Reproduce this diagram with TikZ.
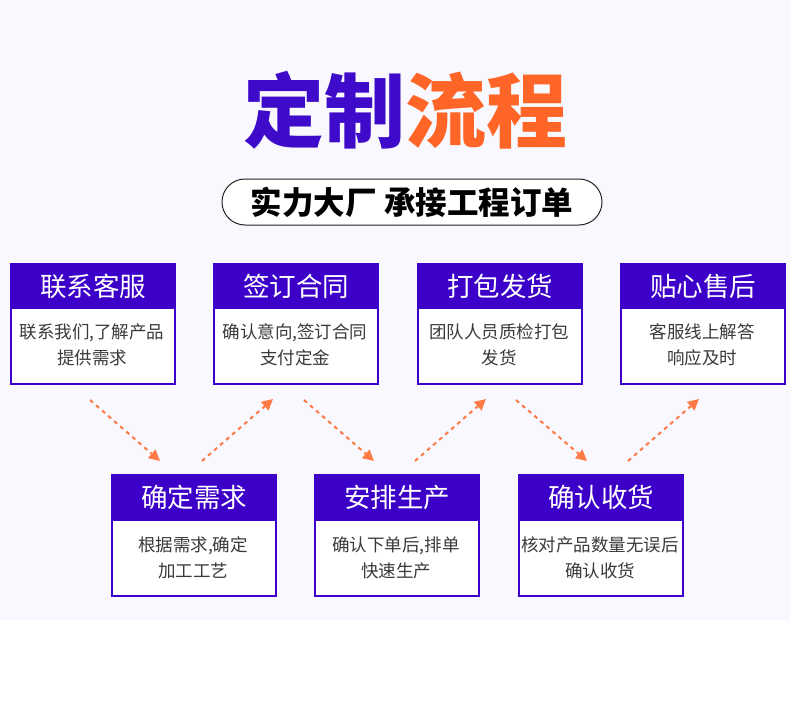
\documentclass[tikz,border=0pt]{standalone}
\usepackage{fontspec}
\newfontfamily\cjk{Noto Sans CJK SC}
\usetikzlibrary{arrows.meta}
\definecolor{bgl}{HTML}{F8F8FE}
\definecolor{pur}{HTML}{3C00C8}
\definecolor{tpur}{HTML}{3E0BCB}
\definecolor{org}{HTML}{FF6526}
\definecolor{arr}{HTML}{FF7A45}
\definecolor{txt}{HTML}{3A3A3A}
\begin{document}
\begin{tikzpicture}[x=1pt,y=-1pt,
  card/.style={draw=pur, line width=2pt, fill=white, minimum width=164pt, minimum height=120pt, inner sep=0pt, anchor=north west},
  hdr/.style={fill=pur, text=white, minimum width=164pt, minimum height=46pt, inner sep=0pt, anchor=north, font=\cjk\fontsize{26.5}{26.5}\selectfont},
  bodytext/.style={align=center, text=txt, inner sep=0pt, font=\cjk\fontsize{17.5}{26}\selectfont},
  flow/.style={arr, line width=2pt, dash pattern=on 4pt off 4pt, -{Triangle[length=11pt,width=11pt]}}
]
\useasboundingbox (0,0) rectangle (790,701);
\fill[white] (0,0) rectangle (790,701);
\fill[bgl] (0,0) rectangle (790,620);

\node[font=\cjk\bfseries\fontsize{81}{81}\selectfont, inner sep=0pt] (title) at (405,110) {{\color{tpur}定制}{\color{org}流程}};
\draw[black!85, line width=1pt, rounded corners=23pt, fill=white] (222,179) rectangle (602,225);
\node[font=\cjk\bfseries\fontsize{31.5}{31.5}\selectfont, inner sep=0pt] (sub) at (412,202) {实力大厂\hspace{8pt}承接工程订单};

% top row
\node[card] (c1) at (10,263) {};
\node[hdr] (h1) at (c1.north) {联系客服};
\node[bodytext] (t1) at (92,345) {联系我们,了解产品\\提供需求};
\node[card] (c2) at (213,263) {};
\node[hdr] (h2) at (c2.north) {签订合同};
\node[bodytext] (t2) at (295,345) {确认意向,签订合同\\支付定金};
\node[card] (c3) at (417,263) {};
\node[hdr] (h3) at (c3.north) {打包发货};
\node[bodytext] (t3) at (499,345) {团队人员质检打包\\发货};
\node[card] (c4) at (620,263) {};
\node[hdr] (h4) at (c4.north) {贴心售后};
\node[bodytext] (t4) at (702,345) {客服线上解答\\响应及时};

% bottom row
\node[card, minimum height=121pt] (c5) at (111,474) {};
\node[hdr, minimum height=47pt] (h5) at (c5.north) {确定需求};
\node[bodytext] (t5) at (193,558) {根据需求,确定\\加工工艺};
\node[card, minimum height=121pt] (c6) at (314,474) {};
\node[hdr, minimum height=47pt] (h6) at (c6.north) {安排生产};
\node[bodytext] (t6) at (396,558) {确认下单后,排单\\快速生产};
\node[card, minimum height=121pt] (c7) at (518,474) {};
\node[hdr, minimum height=47pt] (h7) at (c7.north) {确认收货};
\node[bodytext] (t7) at (600,558) {核对产品数量无误后\\确认收货};

% arrows
\coordinate (a1s) at (90,400);  \coordinate (a1e) at (160,461);
\coordinate (a2s) at (202,461); \coordinate (a2e) at (273,399);
\coordinate (a3s) at (304,400); \coordinate (a3e) at (374,461);
\coordinate (a4s) at (415,461); \coordinate (a4e) at (486,399);
\coordinate (a5s) at (516,400); \coordinate (a5e) at (587,461);
\coordinate (a6s) at (628,461); \coordinate (a6e) at (699,399);
\draw[flow] (a1s) -- (a1e);
\draw[flow] (a2s) -- (a2e);
\draw[flow] (a3s) -- (a3e);
\draw[flow] (a4s) -- (a4e);
\draw[flow] (a5s) -- (a5e);
\draw[flow] (a6s) -- (a6e);
\end{tikzpicture}
\end{document}
